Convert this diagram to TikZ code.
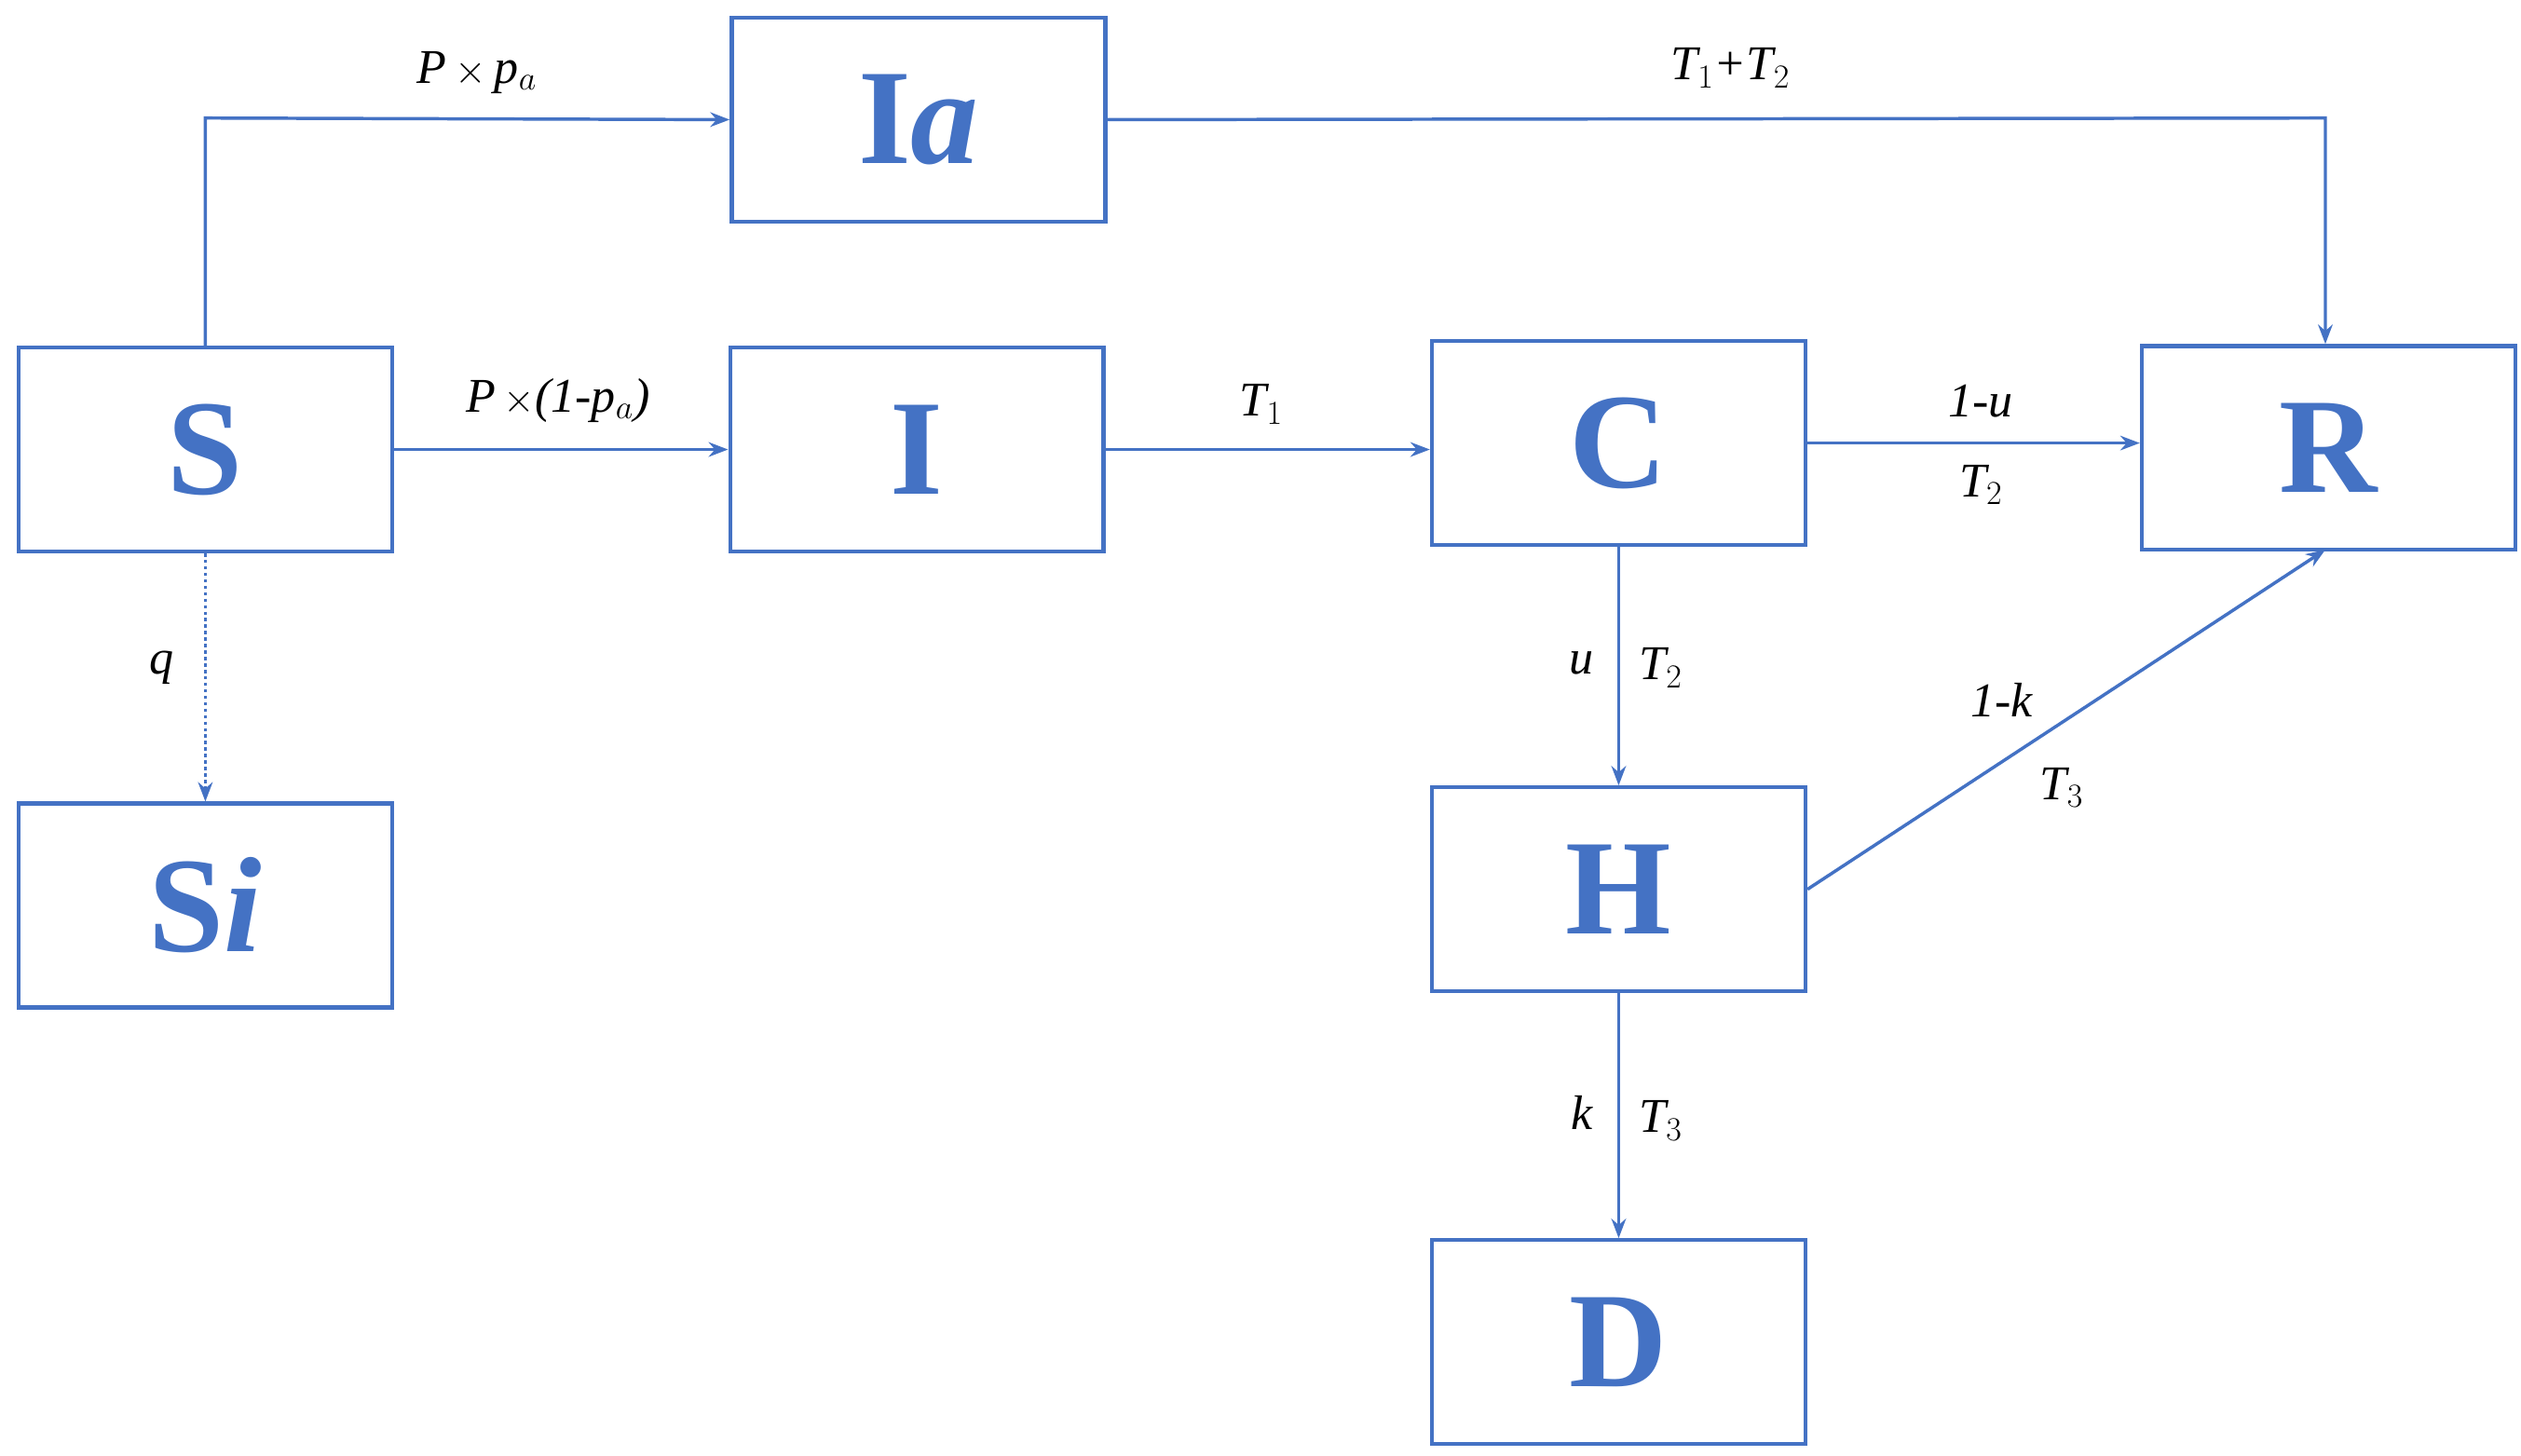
\documentclass[tikz,border=0pt]{standalone}
\usepackage{fontspec}
\setmainfont{Liberation Serif}
\usetikzlibrary{arrows.meta,calc}
\definecolor{bl}{HTML}{4472C4}
\begin{document}
\begin{tikzpicture}[x=1pt,y=-1pt,
 box/.style={draw=bl,line width=2.5pt,minimum width=231pt,minimum height=126pt,inner sep=0pt,text=bl,font=\fontsize{84}{84}\selectfont\bfseries},
 ar/.style={draw=bl,line width=2pt,-{Stealth[length=12pt,width=9pt]}},
 lb/.style={font=\fontsize{30}{30}\selectfont\itshape}]
\useasboundingbox (0,0) rectangle (1559,900);
\node[box] (S) at (127,278) {S};
\node[box] (Ia) at (568,74) {I\textit{a}};
\node[box] (I) at (567,278) {I};
\node[box] (C) at (1001,274) {C};
\node[box] (R) at (1440,277) {R};
\node[box] (Si) at (127,560) {S\textit{i}};
\node[box] (H) at (1001,550) {H};
\node[box] (D) at (1001,830) {D};
\coordinate (c1) at (127,73);
\coordinate (c2) at (1438,73);
\draw[ar] (S.north) -- (c1) -- (Ia.west);
\draw[ar] (S.east) -- (I.west);
\draw[ar] (I.east) -- (C.west |- I.east);
\draw[ar] (C.east) -- (R.west |- C.east);
\draw[ar] (Ia.east) -- (c2) -- (c2 |- R.north);
\draw[ar,dotted] (S.south) -- (Si.north);
\draw[ar] (C.south) -- (H.north);
\draw[ar] (H.east) -- (1438,340);
\draw[ar] (H.south) -- (D.north);
\node[lb] (l1) at (295,45) {P\,$\times$\,p$_a$};
\node[lb] (l2) at (345,248) {P\,$\times$(1-p$_a$)};
\node[lb] (l3) at (780,250) {T$_1$};
\node[lb] (l4) at (1225,248) {1-u};
\node[lb] (l5) at (1225,300) {T$_2$};
\node[lb] (l6) at (1070,42) {T$_1$+T$_2$};
\node[lb] (l7) at (100,413) {q};
\node[lb] (l8) at (978,410) {u};
\node[lb] (l9) at (1027,413) {T$_2$};
\node[lb] (l10) at (1238,433) {1-k};
\node[lb] (l11) at (1275,487) {T$_3$};
\node[lb] (l12) at (978,688) {k};
\node[lb] (l13) at (1027,693) {T$_3$};
\end{tikzpicture}
\end{document}
